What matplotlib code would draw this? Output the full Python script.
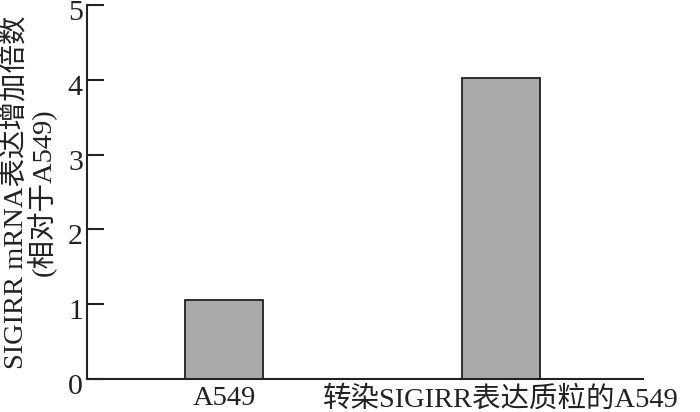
import matplotlib
matplotlib.use("Agg")
import matplotlib.pyplot as plt
from matplotlib.transforms import ScaledTranslation

categories = ["A549", "转染SIGIRR表达质粒的A549"]
values = [1.05, 4.03]
yticks = [0, 1, 2, 3, 4, 5]

plt.rcParams['font.family'] = ['Liberation Serif', 'Noto Sans CJK SC', 'DejaVu Sans']

fig = plt.figure(figsize=(7, 4.12), dpi=100)
ax = fig.add_axes([0.1243, 0.0801, 0.7943, 0.9078])

x = list(range(len(categories)))
ax.bar(x, values, width=0.282, color="#aaaaaa", edgecolor="#222222", linewidth=1.3)

ax.set_xlim(-0.495, 1.513)
ax.set_ylim(0, 5)
ax.set_yticks(yticks)
ax.set_yticklabels([str(t) for t in yticks], fontsize=21.5)
ax.set_xticks(x)
ax.set_xticklabels(categories, fontsize=20.5)

ax.spines['top'].set_visible(False)
ax.spines['right'].set_visible(False)
for s in ['left', 'bottom']:
    ax.spines[s].set_linewidth(1.5)
    ax.spines[s].set_color("#222222")

ax.tick_params(axis='y', direction='in', length=12, width=1.5, pad=3, colors="#222222")
ax.tick_params(axis='x', length=0, pad=5, colors="#222222")

shift = ScaledTranslation(0, -5 / 100, fig.dpi_scale_trans)
for lab in ax.get_yticklabels():
    lab.set_transform(lab.get_transform() + shift)

ax.set_ylabel("SIGIRR mRNA表达增加倍数\n(相对于A549)", fontsize=20.5, linespacing=0.95,
              color="#222222", labelpad=8)

fig.savefig("out.png", dpi=100)
